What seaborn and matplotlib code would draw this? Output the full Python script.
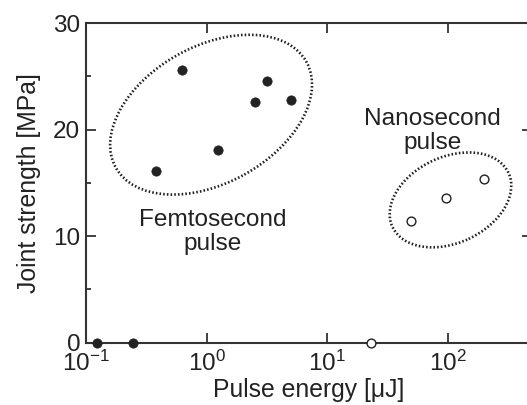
import matplotlib
matplotlib.use("Agg")
import matplotlib.pyplot as plt
import matplotlib.transforms as mtransforms
from matplotlib.patches import Ellipse
from matplotlib.ticker import LogLocator, MultipleLocator, NullLocator
import seaborn as sns
import pandas as pd

# femtosecond pulses (filled markers)
fs_energy = [0.123, 0.247, 0.378, 0.628, 1.25, 2.51, 3.14, 4.99]
fs_strength = [0, 0, 16.1, 25.6, 18.1, 22.6, 24.6, 22.8]

# nanosecond pulses (open markers)
ns_energy = [22.9, 49, 97, 198]
ns_strength = [0, 11.4, 13.6, 15.4]

group_labels = ["Femtosecond\npulse", "Nanosecond\npulse"]

sns.set_style("ticks")
plt.rcParams["font.family"] = ["Liberation Sans", "DejaVu Sans"]
plt.rcParams["mathtext.fontset"] = "custom"
plt.rcParams["mathtext.rm"] = "Liberation Sans"

ink = "#222222"
fs = pd.DataFrame({"energy": fs_energy, "strength": fs_strength})
ns = pd.DataFrame({"energy": ns_energy, "strength": ns_strength})

fig = plt.figure(figsize=(5.27, 4.05), dpi=100)
ax = fig.add_axes([0.163, 0.154, 0.847, 0.789])

sns.scatterplot(data=fs, x="energy", y="strength", ax=ax, s=45,
                color=ink, edgecolor=ink, linewidth=0.5, clip_on=False, zorder=5)
sns.scatterplot(data=ns, x="energy", y="strength", ax=ax, s=40,
                facecolor="white", edgecolor=ink, linewidth=1.0, clip_on=False, zorder=5)

ax.set_xscale("log")
ax.set_xlim(0.1, 500)
ax.set_ylim(0, 30)
ax.xaxis.set_major_locator(LogLocator(base=10, numticks=10))
ax.xaxis.set_minor_locator(NullLocator())
ax.yaxis.set_major_locator(MultipleLocator(10))
ax.yaxis.set_minor_locator(MultipleLocator(5))

for side in ["left", "right", "top", "bottom"]:
    ax.spines[side].set_color("#333333")
    ax.spines[side].set_linewidth(1.5)
ax.tick_params(which="both", direction="in", top=True, right=True,
               color="#333333", width=1.3, labelsize=17.5, labelcolor=ink)
ax.tick_params(axis="x", pad=6)
ax.tick_params(axis="y", pad=4)
ax.tick_params(which="major", length=7)
ax.tick_params(which="minor", length=3.5)

ax.set_xlabel("Pulse energy [\u03bcJ]", fontsize=17.8, color=ink, labelpad=1)
ax.set_ylabel("Joint strength [MPa]", fontsize=17.8, color=ink, labelpad=9)

# dotted ellipses, centred in data coords, sized in inches
ellipses = [(1.09, 21.4, 2.18, 1.37, 29), (105, 13.4, 1.28, 0.86, 25)]
for cx, cy, w, h, ang in ellipses:
    tr = fig.dpi_scale_trans + mtransforms.ScaledTranslation(cx, cy, ax.transData)
    ax.add_patch(Ellipse((0, 0), w, h, angle=ang, transform=tr, fill=False,
                         edgecolor=ink, linewidth=1.9,
                         linestyle=(0, (0.6, 0.8)), zorder=3))

ax.text(1.13, 10.4, group_labels[0], ha="center", va="center",
        fontsize=17.6, color=ink, linespacing=1.1)
ax.text(75, 19.9, group_labels[1], ha="center", va="center",
        fontsize=17.6, color=ink, linespacing=1.1)

fig.savefig("out.png", dpi=100)
